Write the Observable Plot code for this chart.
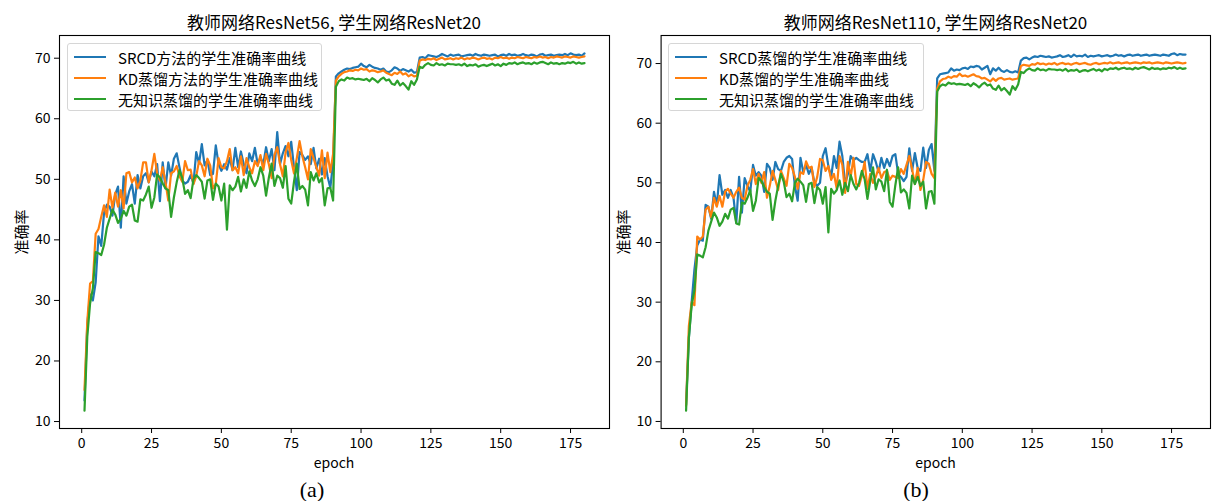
<!DOCTYPE html>
<html><head><meta charset="utf-8">
<script src="https://cdn.jsdelivr.net/npm/d3@7"></script>
<script src="https://cdn.jsdelivr.net/npm/@observablehq/plot@0.6"></script>
<style>
body{margin:0;background:#fff;}
#root{position:relative;width:1212px;height:501px;overflow:hidden;font-family:"Noto Sans CJK SC","Noto Sans",sans-serif;color:#000;}
.abs{position:absolute;white-space:nowrap;line-height:1;}
.title{font-size:17px;transform:translate(-50%,-50%);}
.xlab{font-size:14px;transform:translate(-50%,-50%);}
.ylab{font-size:15px;transform:translate(-50%,-50%) rotate(-90deg);}
.cap{font-family:"Liberation Serif","Times New Roman",serif;font-size:22px;transform:translate(-50%,-50%);}
.legend{position:absolute;border:1px solid #d6d6d6;border-radius:3px;background:rgba(255,255,255,0.85);box-sizing:border-box;}
.sw{position:absolute;top:9px;height:2.4px;}
.panel{position:absolute;top:0;}
</style></head><body><div id="root"></div>
<script>
const epochs = d3.range(1, 181);
const xTicks = [0, 25, 50, 75, 100, 125, 150, 175];
const yTicks = [10, 20, 30, 40, 50, 60, 70];
const colors = ["#1f77b4", "#ff7f0e", "#2ca02c"];

const titleA = "教师网络ResNet56, 学生网络ResNet20";
const titleB = "教师网络ResNet110, 学生网络ResNet20";
const namesA = ["SRCD方法的学生准确率曲线", "KD蒸馏方法的学生准确率曲线", "无知识蒸馏的学生准确率曲线"];
const namesB = ["SRCD蒸馏的学生准确率曲线", "KD蒸馏的学生准确率曲线", "无知识蒸馏的学生准确率曲线"];
const xLabel = "epoch";
const yLabel = "准确率";

const aSRCD = [13.5,26.0,31.0,30.0,33.0,40.6,39.0,44.5,45.8,45.5,
44.0,47.5,48.8,42.0,50.5,46.0,48.0,49.2,46.0,50.7,
48.5,50.5,51.0,49.5,51.3,50.5,52.5,46.4,52.8,48.5,
52.8,50.6,53.4,54.3,52.0,49.8,49.3,49.6,50.7,49.3,
54.5,52.6,55.8,52.3,53.2,50.7,50.9,55.6,52.5,51.4,
52.5,51.6,53.5,51.5,55.2,52.0,54.6,52.5,51.0,54.3,
53.0,55.2,52.5,53.6,52.5,55.3,53.0,55.0,51.5,57.8,
52.5,54.3,55.5,53.8,56.2,52.0,48.2,54.5,54.0,53.2,
53.8,52.5,55.2,51.8,53.4,50.8,53.5,50.5,48.6,52.8,
67.0,67.5,67.8,68.1,68.3,68.2,68.4,68.5,68.6,69.1,
68.7,68.5,68.9,68.6,68.4,68.3,68.1,68.3,67.8,67.7,
68.0,68.5,68.3,67.9,68.2,68.0,67.8,68.1,67.6,67.7,
70.1,70.2,70.0,70.5,70.4,70.3,70.2,70.4,70.7,70.5,
70.3,70.6,70.4,70.5,70.6,70.3,70.4,70.5,70.6,70.4,
70.7,70.5,70.4,70.6,70.5,70.4,70.5,70.6,70.3,70.5,
70.6,70.4,70.7,70.5,70.6,70.4,70.5,70.7,70.5,70.4,
70.6,70.5,70.3,70.6,70.7,70.4,70.5,70.6,70.4,70.5,
70.6,70.5,70.7,70.5,70.8,70.6,70.5,70.6,70.4,70.8];

const aKD = [15.2,26.5,32.8,33.2,41.0,41.8,43.8,45.7,43.8,48.3,
45.3,47.8,45.5,48.2,45.2,51.0,51.2,49.5,50.3,48.5,
49.8,52.8,52.8,49.5,51.5,54.2,51.0,49.8,52.0,49.5,
46.5,51.0,51.3,52.2,50.5,49.6,53.0,51.5,51.6,49.2,
50.5,53.0,52.3,50.5,53.4,52.3,48.5,49.2,53.5,52.0,
51.8,53.0,55.0,51.5,52.0,51.0,53.8,50.7,53.5,52.0,
51.0,53.0,52.2,54.0,51.5,54.2,52.5,50.2,54.0,55.3,
52.5,50.5,54.5,56.0,53.2,51.0,53.5,56.3,53.8,52.0,
50.0,55.0,53.5,52.0,50.6,54.8,50.2,54.4,51.2,54.2,
66.3,67.0,67.4,67.7,67.8,68.0,67.9,68.1,68.0,68.3,
68.1,68.2,67.8,68.0,67.9,67.7,67.8,68.0,67.6,67.4,
67.2,67.6,67.4,67.8,67.3,67.5,67.0,67.3,67.0,67.1,
69.6,69.8,69.7,69.9,69.8,70.0,69.7,69.9,70.1,69.8,
69.9,70.0,69.8,70.0,69.9,70.1,69.8,70.0,69.9,70.1,
70.0,69.8,70.0,70.1,69.9,70.0,69.8,70.1,70.0,70.2,
70.0,70.1,69.9,70.1,70.0,70.2,70.1,70.0,70.2,70.1,
70.0,70.2,70.1,70.3,70.1,70.2,70.0,70.2,70.1,70.3,
70.2,70.1,70.3,70.2,70.1,70.3,70.2,70.1,70.2,70.3];

const baseline = [11.8,24.0,29.5,32.0,38.0,37.8,37.5,39.2,42.0,43.5,
45.0,44.2,42.8,43.5,44.8,44.0,45.5,45.8,43.2,43.0,
46.7,46.5,47.5,48.8,45.3,47.0,50.8,50.3,49.3,48.5,
48.2,43.8,47.0,49.5,51.5,50.2,47.6,48.2,46.9,50.0,
50.7,50.2,49.6,46.8,49.8,50.0,46.6,49.3,48.8,46.5,
49.3,41.7,49.0,48.2,48.8,50.4,48.0,50.0,48.6,51.3,
49.8,48.9,50.0,52.0,50.6,47.3,50.3,52.6,48.9,50.6,
50.2,48.6,52.2,46.8,46.0,49.6,52.6,48.4,48.9,48.3,
45.7,51.2,49.8,51.0,49.5,50.2,45.7,48.5,48.6,46.5,
65.3,66.2,66.5,66.3,66.8,66.6,66.7,66.5,66.6,66.5,
66.4,66.6,66.2,66.7,66.4,66.0,66.5,66.8,66.3,66.5,
65.8,65.6,66.3,65.5,65.9,65.4,64.8,66.2,65.6,66.5,
68.6,68.4,68.9,69.2,68.9,68.8,69.2,68.9,69.0,68.8,
69.1,69.0,69.0,68.9,69.0,68.8,69.1,68.7,68.9,68.8,
69.0,68.6,68.8,68.9,68.7,68.9,69.1,68.8,69.0,68.7,
69.1,68.9,69.2,69.1,69.3,69.0,69.2,69.3,69.1,69.2,
69.0,69.3,69.1,69.3,69.4,69.2,69.0,69.3,69.1,69.2,
69.0,69.2,69.1,69.3,69.2,69.4,69.1,69.3,69.1,69.2];

const bSRCD = [12.8,24.0,30.0,35.5,39.5,40.5,40.3,46.3,46.0,44.0,
48.5,46.2,51.3,48.0,48.8,47.5,48.8,47.5,43.3,51.0,
45.0,50.8,49.5,48.5,53.0,51.2,51.8,51.2,48.5,53.2,
52.5,50.5,53.5,52.3,52.0,53.5,54.2,54.5,54.0,49.5,
47.0,54.2,51.8,53.0,51.5,52.5,50.0,49.5,50.0,54.5,
55.8,52.8,51.0,54.5,52.5,56.9,54.5,49.8,51.5,54.5,
53.8,54.2,53.8,53.5,53.5,54.8,52.0,54.8,53.5,51.8,
54.2,52.5,54.0,52.8,54.5,54.8,51.5,51.0,50.3,51.0,
55.8,52.0,55.0,52.5,52.0,55.9,52.5,55.5,56.5,52.0,
67.5,68.2,68.3,68.4,68.5,69.2,68.8,69.0,68.9,69.2,
69.3,69.1,69.5,69.4,69.6,69.5,69.0,69.3,69.6,68.2,
69.2,68.8,69.3,68.8,68.6,68.9,68.6,68.5,68.7,68.5,
70.5,70.9,71.0,70.7,71.0,71.2,71.1,71.3,71.2,71.1,
71.2,71.0,71.1,71.2,71.4,71.1,71.2,71.4,71.1,71.5,
71.2,71.3,71.2,71.5,71.1,71.3,71.2,71.3,71.4,71.2,
71.3,71.4,71.2,71.3,71.5,71.3,71.4,71.2,71.4,71.5,
71.3,71.4,71.5,71.3,71.4,71.5,71.3,71.4,71.5,71.4,
71.3,71.5,71.4,71.3,71.6,71.7,71.4,71.6,71.5,71.5];

const bKD = [12.6,26.0,30.0,29.5,41.0,40.5,41.0,45.5,46.0,44.2,
47.5,46.0,47.8,46.0,48.5,49.0,48.2,47.5,48.5,49.2,
47.5,47.2,49.5,50.5,52.3,49.8,51.5,50.0,51.8,47.5,
49.5,52.0,50.5,48.8,52.0,50.8,49.5,53.2,52.5,51.0,
49.0,51.8,51.5,53.6,52.5,52.7,49.3,51.0,54.0,53.8,
52.0,52.8,50.5,51.5,49.0,54.5,53.0,48.3,53.5,51.0,
54.2,49.8,49.5,51.2,53.5,49.0,51.5,50.0,51.0,52.5,
50.8,51.8,52.0,50.5,51.2,51.0,50.8,52.3,51.5,53.0,
54.5,52.3,49.8,52.5,48.8,50.5,53.5,53.2,51.5,50.8,
65.8,67.0,67.4,67.5,67.8,67.6,67.9,67.8,68.3,67.9,
68.0,67.8,68.0,68.2,67.9,67.8,67.5,67.6,67.3,67.0,
67.5,67.1,67.5,67.6,67.3,67.4,67.5,67.3,67.4,67.5,
69.6,69.8,69.7,69.6,69.9,69.8,70.1,69.9,70.0,69.8,
70.0,69.9,70.1,69.8,70.0,70.1,69.9,70.0,69.8,70.0,
70.1,69.9,70.0,70.1,69.9,69.8,70.0,70.1,69.9,70.0,
70.1,70.0,70.2,70.0,70.1,70.2,70.0,70.1,70.2,70.0,
70.1,70.2,70.1,70.0,70.2,70.1,70.2,70.0,70.1,70.2,
70.1,70.0,70.2,70.1,70.0,70.1,70.2,70.1,70.0,70.1];

const root = document.getElementById("root");

function addDiv(cls, text, x, y) {
  const d = document.createElement("div");
  d.className = "abs " + cls;
  d.textContent = text;
  d.style.left = x + "px";
  d.style.top = y + "px";
  root.appendChild(d);
}

function makePanel(seriesList, yDomain, left, width, marginLeft, marginRight) {
  const svg = Plot.plot({
    width, height: 475,
    marginLeft, marginRight, marginTop: 35, marginBottom: 47,
    style: {background: "transparent", fontFamily: '"Noto Sans CJK SC","Noto Sans",sans-serif', fontSize: "14px", color: "#000", overflow: "visible"},
    x: {domain: [-7.95, 188.95]},
    y: {domain: yDomain},
    marks: [
      Plot.axisX({ticks: xTicks, tickSize: 5, tickPadding: 5, label: null, tickFormat: d => String(d)}),
      Plot.axisY({ticks: yTicks, tickSize: 5, tickPadding: 4, label: null, tickFormat: d => String(d)}),
      ...seriesList.map((vals, k) => Plot.line(vals, {x: (d, i) => epochs[i], y: d => d, stroke: colors[k], strokeWidth: 2.2})),
      Plot.frame({stroke: "#000", strokeWidth: 1.1})
    ]
  });
  svg.classList.add("panel");
  svg.style.left = left + "px";
  root.appendChild(svg);
}

function makeLegend(names, x, y, w, h) {
  const lg = document.createElement("div");
  lg.className = "legend";
  lg.style.left = x + "px"; lg.style.top = y + "px";
  lg.style.width = w + "px"; lg.style.height = h + "px";
  const rowsY = [13, 34.3, 55.3];
  names.forEach((n, k) => {
    const sw = document.createElement("div");
    sw.className = "sw";
    sw.style.left = "6px"; sw.style.width = "32px";
    sw.style.top = (rowsY[k] - 1.2) + "px";
    sw.style.background = colors[k];
    lg.appendChild(sw);
    const t = document.createElement("div");
    t.className = "abs";
    t.style.left = "50px";
    t.style.top = rowsY[k] + "px";
    t.style.fontSize = "15px";
    t.style.transform = "translateY(-50%)";
    t.textContent = n;
    lg.appendChild(t);
  });
  root.appendChild(lg);
}

makePanel([aSRCD, aKD, baseline], [8.85, 73.75], 0, 612, 59, 3);
makePanel([bSRCD, bKD, baseline], [8.82, 74.7], 600, 612, 60.6, 2);

addDiv("title", titleA, 334, 20.5);
addDiv("title", titleB, 935.5, 20.5);
addDiv("xlab", xLabel, 334, 462);
addDiv("xlab", xLabel, 935.5, 462);
addDiv("ylab", yLabel, 19.5, 231.5);
addDiv("ylab", yLabel, 621.5, 231.5);
addDiv("cap", "(a)", 312, 490);
addDiv("cap", "(b)", 916, 490);
makeLegend(namesA, 67, 43, 255, 68);
makeLegend(namesB, 668, 43, 256, 68);
</script>
</body></html>
